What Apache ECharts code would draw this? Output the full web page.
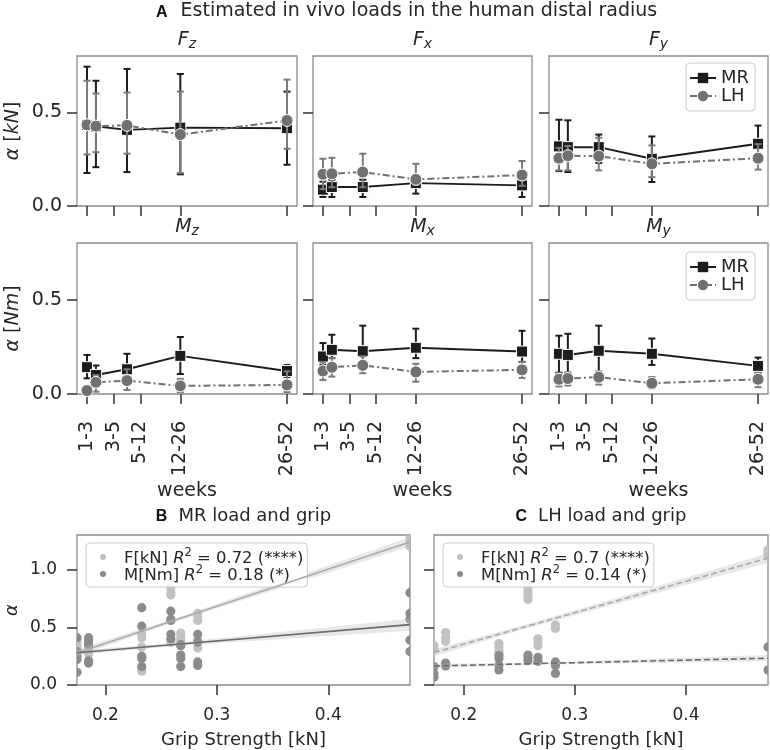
<!DOCTYPE html>
<html><head><meta charset="utf-8">
<script src="https://cdn.jsdelivr.net/npm/echarts@6/dist/echarts.min.js"></script>
<style>html,body{margin:0;padding:0;background:#fff}#c{width:770px;height:750px}</style>
</head><body><div id="c"></div>
<script>
// ---------- Panel A data ----------
const weeksX = [1, 1.67, 4, 8, 16];
const weekTicks = [1, 3, 5, 8, 16];
const weekLabels = ['1-3', '3-5', '5-12', '12-26', '26-52'];
const alphaTicksA = [0, 0.5];

const Fz_MR = [0.432, 0.425, 0.406, 0.418, 0.415];
const Fz_MR_lo = [0.176, 0.207, 0.181, 0.169, 0.22];
const Fz_MR_hi = [0.743, 0.668, 0.731, 0.704, 0.61];
const Fz_LH = [0.433, 0.426, 0.43, 0.381, 0.456];
const Fz_LH_lo = [0.275, 0.287, 0.279, 0.176, 0.305];
const Fz_LH_hi = [0.668, 0.60, 0.605, 0.61, 0.674];

const Fx_MR = [0.087, 0.101, 0.101, 0.122, 0.11];
const Fx_MR_lo = [0.048, 0.048, 0.048, 0.066, 0.048];
const Fx_MR_hi = [0.13, 0.14, 0.14, 0.16, 0.15];
const Fx_LH = [0.169, 0.172, 0.181, 0.142, 0.165];
const Fx_LH_lo = [0.09, 0.1, 0.1, 0.115, 0.108];
const Fx_LH_hi = [0.252, 0.257, 0.279, 0.225, 0.24];

const Fy_MR = [0.318, 0.314, 0.314, 0.252, 0.332];
const Fy_MR_lo = [0.186, 0.181, 0.23, 0.128, 0.26];
const Fy_MR_hi = [0.46, 0.457, 0.381, 0.371, 0.429];
const Fy_LH = [0.255, 0.268, 0.266, 0.225, 0.255];
const Fy_LH_lo = [0.19, 0.19, 0.19, 0.154, 0.194];
const Fy_LH_hi = [0.31, 0.32, 0.364, 0.323, 0.33];

const Mz_MR = [0.142, 0.101, 0.131, 0.202, 0.122];
const Mz_MR_lo = [0.083, 0.07, 0.09, 0.106, 0.09];
const Mz_MR_hi = [0.207, 0.151, 0.213, 0.302, 0.154];
const Mz_LH = [0.018, 0.062, 0.071, 0.043, 0.048];
const Mz_LH_lo = [0.0, 0.012, 0.021, 0.01, 0.01];
const Mz_LH_hi = [0.04, 0.1, 0.131, 0.08, 0.12];

const Mx_MR = [0.199, 0.234, 0.227, 0.245, 0.225];
const Mx_MR_lo = [0.155, 0.19, 0.17, 0.19, 0.17];
const Mx_MR_hi = [0.27, 0.314, 0.362, 0.346, 0.335];
const Mx_LH = [0.122, 0.142, 0.152, 0.117, 0.128];
const Mx_LH_lo = [0.074, 0.092, 0.11, 0.065, 0.085];
const Mx_LH_hi = [0.17, 0.19, 0.2, 0.16, 0.17];

const My_MR = [0.213, 0.207, 0.229, 0.213, 0.149];
const My_MR_lo = [0.113, 0.11, 0.09, 0.154, 0.11];
const My_MR_hi = [0.309, 0.319, 0.362, 0.294, 0.193];
const My_LH = [0.078, 0.082, 0.089, 0.057, 0.078];
const My_LH_lo = [0.04, 0.045, 0.05, 0.03, 0.036];
const My_LH_hi = [0.11, 0.115, 0.12, 0.09, 0.11];

// ---------- Panels B / C data ----------
const gripTicks = [0.2, 0.3, 0.4];
const alphaTicksB = [0, 0.5, 1.0];
const gripB = [0.1745, 0.1849, 0.2326, 0.2587, 0.2676, 0.2828, 0.4733];
const gripC = [0.1733, 0.1838, 0.2317, 0.2578, 0.2668, 0.2825, 0.4737];
const B_F = [[0.30,0.33,0.35,0.38],[0.27,0.30,0.33],[0.12,0.14,0.33,0.41,0.44],[0.37,0.39,0.78,0.80,0.84],[0.38,0.41,0.45],[0.32,0.39,0.56,0.59,0.62],[1.20,1.23,1.27]];
const B_M = [[0.11,0.22,0.25,0.29,0.41],[0.19,0.21,0.35,0.38,0.41],[0.16,0.23,0.25,0.51,0.67],[0.40,0.44,0.56,0.57,0.64],[0.16,0.23,0.26,0.34,0.35],[0.17,0.20,0.37,0.44],[0.29,0.39,0.57,0.62,0.80]];
const C_F = [[0.31,0.34],[0.38,0.41,0.455],[0.28,0.30,0.33,0.36],[0.74,0.76,0.79,0.82,0.85],[0.34,0.37,0.40],[0.49,0.52],[1.12,1.15,1.17]];
const C_M = [[0.07,0.10,0.16],[0.165,0.18,0.19],[0.13,0.17,0.23,0.255],[0.21,0.235,0.26],[0.205,0.24],[0.10,0.17,0.20],[0.13,0.33]];

const fitXB = [0.1745, 0.4733];
const fitB_F = [0.28, 1.24];
const fitB_M = [0.28, 0.523];
const fitXC = [0.1733, 0.4737];
const fitC_F = [0.281, 1.10];
const fitC_M = [0.165, 0.232];

const bandXB = [0.1745, 0.26, 0.4733];
const bandB_F_lo = [0.25, 0.54, 1.20];
const bandB_F_hi = [0.31, 0.57, 1.28];
const bandB_M_lo = [0.26, 0.335, 0.47];
const bandB_M_hi = [0.30, 0.365, 0.575];
const bandXC = [0.1733, 0.26, 0.4737];
const bandC_F_lo = [0.25, 0.50, 1.06];
const bandC_F_hi = [0.31, 0.535, 1.14];
const bandC_M_lo = [0.145, 0.175, 0.205];
const bandC_M_hi = [0.185, 0.193, 0.26];

// ---------- build ----------
const FONT = 'DejaVu Sans';
const TXT = '#262626';
const MRC = '#1c1c1c', LHC = '#707070', LHE = '#7a7a7a';
const FC = '#c2c2c2', MC = '#8b8b8b';
const FL = '#a9a9a9', ML = '#6b6b6b';

const panelsA = [
  {t:'{f|F}{s|z}', mr:Fz_MR, mrLo:Fz_MR_lo, mrHi:Fz_MR_hi, lh:Fz_LH, lhLo:Fz_LH_lo, lhHi:Fz_LH_hi},
  {t:'{f|F}{s|x}', mr:Fx_MR, mrLo:Fx_MR_lo, mrHi:Fx_MR_hi, lh:Fx_LH, lhLo:Fx_LH_lo, lhHi:Fx_LH_hi},
  {t:'{f|F}{s|y}', mr:Fy_MR, mrLo:Fy_MR_lo, mrHi:Fy_MR_hi, lh:Fy_LH, lhLo:Fy_LH_lo, lhHi:Fy_LH_hi},
  {t:'{f|M}{s|z}', mr:Mz_MR, mrLo:Mz_MR_lo, mrHi:Mz_MR_hi, lh:Mz_LH, lhLo:Mz_LH_lo, lhHi:Mz_LH_hi},
  {t:'{f|M}{s|x}', mr:Mx_MR, mrLo:Mx_MR_lo, mrHi:Mx_MR_hi, lh:Mx_LH, lhLo:Mx_LH_lo, lhHi:Mx_LH_hi},
  {t:'{f|M}{s|y}', mr:My_MR, mrLo:My_MR_lo, mrHi:My_MR_hi, lh:My_LH, lhLo:My_LH_lo, lhHi:My_LH_hi}
];
const colLeft = [77, 313, 549], colW = [220, 219, 219];
const rowTop = [56, 243], rowH = [150, 151];
const subTop = [31, 218];

const grids = [], xAxes = [], yAxes = [], series = [], titles = [], legends = [];
const subRich = {
  f: {fontSize: 19, fontStyle: 'italic', fontWeight: 'normal', lineHeight: 20, verticalAlign: 'top', color: TXT, fontFamily: FONT},
  s: {fontSize: 14, fontStyle: 'italic', fontWeight: 'normal', lineHeight: 20, verticalAlign: 'bottom', color: TXT, fontFamily: FONT}
};
const tickStyle = {color: '#333', width: 1.5};

function errRender(color) {
  return function (params, api) {
    const x = api.value(0), lo = api.value(1), hi = api.value(2);
    const p1 = api.coord([x, lo]), p2 = api.coord([x, hi]);
    const cw = 3.5, st = {stroke: color, lineWidth: 2};
    return {type: 'group', children: [
      {type: 'line', shape: {x1: p1[0], y1: p1[1], x2: p2[0], y2: p2[1]}, style: st},
      {type: 'line', shape: {x1: p1[0] - cw, y1: p1[1], x2: p1[0] + cw, y2: p1[1]}, style: st},
      {type: 'line', shape: {x1: p2[0] - cw, y1: p2[1], x2: p2[0] + cw, y2: p2[1]}, style: st}
    ]};
  };
}

panelsA.forEach((p, k) => {
  const row = Math.floor(k / 3), col = k % 3;
  grids.push({left: colLeft[col], top: rowTop[row], width: colW[col], height: rowH[row],
    show: true, borderColor: '#8c8c8c', borderWidth: 1.3, backgroundColor: '#fff'});
  xAxes.push({gridIndex: k, type: 'value', min: 0.25, max: 16.75,
    axisLine: {show: false}, splitLine: {show: false},
    axisTick: {show: true, customValues: weekTicks, length: 10, lineStyle: tickStyle},
    axisLabel: {show: row === 1, customValues: weekTicks, rotate: 90, margin: 27, fontSize: 19, color: TXT, fontFamily: FONT,
      formatter: v => weekLabels[weekTicks.indexOf(v)] || ''},
    name: row === 1 ? 'weeks' : '', nameLocation: 'middle', nameGap: 88,
    nameTextStyle: {fontSize: 19, color: TXT, fontFamily: FONT}});
  yAxes.push({gridIndex: k, type: 'value', min: 0, max: 0.8,
    axisLine: {show: false}, splitLine: {show: false},
    axisTick: {show: true, customValues: alphaTicksA, length: 10, lineStyle: tickStyle},
    axisLabel: {show: col === 0, customValues: alphaTicksA, margin: 15, fontSize: 19, color: TXT, fontFamily: FONT,
      formatter: v => v.toFixed(1)},
    name: col === 0 ? (row === 0 ? '{i|α} [{i|kN}]' : '{i|α} [{i|Nm}]') : '',
    nameLocation: 'middle', nameRotate: 90, nameGap: 54,
    nameTextStyle: {fontSize: 19, color: TXT, fontFamily: FONT,
      rich: {i: {fontStyle: 'italic', fontSize: 19, color: TXT, fontFamily: FONT}}}});
  titles.push({text: p.t, left: colLeft[col] + colW[col] / 2, top: subTop[row], textAlign: 'center', padding: 0,
    textStyle: {fontWeight: 'normal', rich: subRich}});
  series.push({type: 'custom', xAxisIndex: k, yAxisIndex: k, z: 2, silent: true,
    data: weeksX.map((x, i) => [x, p.mrLo[i], p.mrHi[i]]), renderItem: errRender(MRC), encode: {x: 0, y: [1, 2]}});
  series.push({type: 'line', name: 'MR', xAxisIndex: k, yAxisIndex: k, z: 3,
    data: weeksX.map((x, i) => [x, p.mr[i]]), symbol: 'rect', symbolSize: 11,
    itemStyle: {color: MRC, borderColor: '#fff', borderWidth: 1}, lineStyle: {color: MRC, width: 2}});
  series.push({type: 'custom', xAxisIndex: k, yAxisIndex: k, z: 4, silent: true,
    data: weeksX.map((x, i) => [x, p.lhLo[i], p.lhHi[i]]), renderItem: errRender(LHE), encode: {x: 0, y: [1, 2]}});
  series.push({type: 'line', name: 'LH', xAxisIndex: k, yAxisIndex: k, z: 5,
    data: weeksX.map((x, i) => [x, p.lh[i]]), symbol: 'circle', symbolSize: 12,
    itemStyle: {color: LHC, borderColor: '#fff', borderWidth: 1}, lineStyle: {color: LHC, width: 2, type: [7, 3, 2, 3]}});
});

// legends for A
[63, 252].forEach(top => {
  legends.push({data: ['MR', 'LH'], orient: 'vertical', left: 686, top: top, padding: [6, 6, 6, 3],
    itemWidth: 26, itemHeight: 13, itemGap: 0, borderColor: '#cccccc', borderWidth: 1, borderRadius: 4,
    backgroundColor: 'rgba(255,255,255,0.85)', selectedMode: false,
    itemStyle: {borderWidth: 0},
    textStyle: {fontSize: 18, lineHeight: 18, color: TXT, fontFamily: FONT}});
});

// Panels B / C
const bc = [
  {left: 77, width: 333, xmin: 0.1745, xmax: 0.4733, grip: gripB, F: B_F, M: B_M, fitX: fitXB, fF: fitB_F, fM: fitB_M,
   bx: bandXB, bFl: bandB_F_lo, bFh: bandB_F_hi, bMl: bandB_M_lo, bMh: bandB_M_hi, dash: 'solid',
   title: '{b|B}{n|MR load and grip}', names: ['B_F', 'B_M'], legLeft: 86},
  {left: 434, width: 334, xmin: 0.1733, xmax: 0.4737, grip: gripC, F: C_F, M: C_M, fitX: fitXC, fF: fitC_F, fM: fitC_M,
   bx: bandXC, bFl: bandC_F_lo, bFh: bandC_F_hi, bMl: bandC_M_lo, bMh: bandC_M_hi, dash: [6, 3],
   title: '{b|C}{n|LH load and grip}', names: ['C_F', 'C_M'], legLeft: 443}
];
const legendLabels = {
  B_F: '{p|F[kN] }{i|R}{s|2}{n| = 0.72 (****)}',
  B_M: '{p|M[Nm] }{i|R}{s|2}{n| = 0.18 (*)}',
  C_F: '{p|F[kN] }{i|R}{s|2}{n| = 0.7 (****)}',
  C_M: '{p|M[Nm] }{i|R}{s|2}{n| = 0.14 (*)}'
};
const legRich = {
  p: {fontSize: 16.4, lineHeight: 20, verticalAlign: 'bottom', color: TXT, fontFamily: FONT, padding: [0, 0, 0, 13]},
  n: {fontSize: 16.4, lineHeight: 20, verticalAlign: 'bottom', color: TXT, fontFamily: FONT},
  i: {fontSize: 16.4, lineHeight: 20, verticalAlign: 'bottom', fontStyle: 'italic', color: TXT, fontFamily: FONT},
  s: {fontSize: 11.5, lineHeight: 20, verticalAlign: 'top', color: TXT, fontFamily: FONT}
};
function bandSeries(gi, xs, lo, hi) {
  return {type: 'custom', xAxisIndex: gi, yAxisIndex: gi, z: 3, silent: true,
    data: xs.map((x, i) => [x, lo[i], hi[i]]), encode: {x: 0, y: [1, 2]},
    renderItem: (params, api) => {
      if (params.dataIndex !== 0) return null;
      const pts = [];
      for (let i = 0; i < xs.length; i++) pts.push(api.coord([xs[i], hi[i]]));
      for (let i = xs.length - 1; i >= 0; i--) pts.push(api.coord([xs[i], lo[i]]));
      return {type: 'polygon', shape: {points: pts}, style: {fill: 'rgba(190,190,190,0.35)'}};
    }};
}
function dotSeries(name, gi, grip, cols, color) {
  const data = [];
  cols.forEach((vals, i) => vals.forEach(v => data.push([grip[i], v])));
  return {type: 'custom', name: name, xAxisIndex: gi, yAxisIndex: gi, z: 2, clip: true, silent: true,
    data: data, encode: {x: 0, y: 1}, itemStyle: {color: color},
    renderItem: (params, api) => {
      const c = api.coord([api.value(0), api.value(1)]);
      return {type: 'circle', shape: {cx: c[0], cy: c[1], r: 4.6}, style: {fill: color}};
    }};
}
bc.forEach((p, j) => {
  const gi = 6 + j;
  grids.push({left: p.left, top: 535, width: p.width, height: 150, show: true,
    borderColor: '#8c8c8c', borderWidth: 1.3, backgroundColor: '#fff'});
  xAxes.push({gridIndex: gi, type: 'value', min: p.xmin, max: p.xmax,
    axisLine: {show: false}, splitLine: {show: false},
    axisTick: {show: true, customValues: gripTicks, length: 10, lineStyle: tickStyle},
    axisLabel: {customValues: gripTicks, margin: 22, fontSize: 17, color: TXT, fontFamily: FONT, formatter: v => v.toFixed(1)},
    name: 'Grip Strength [kN]', nameLocation: 'middle', nameGap: 46,
    nameTextStyle: {fontSize: 18, color: TXT, fontFamily: FONT}});
  yAxes.push({gridIndex: gi, type: 'value', min: 0, max: 1.3,
    axisLine: {show: false}, splitLine: {show: false},
    axisTick: {show: true, customValues: alphaTicksB, length: 10, lineStyle: tickStyle},
    axisLabel: {show: j === 0, customValues: alphaTicksB, margin: 20, fontSize: 17, color: TXT, fontFamily: FONT,
      formatter: v => v.toFixed(1)},
    name: j === 0 ? 'α' : '', nameLocation: 'middle', nameRotate: 90, nameGap: 56,
    nameTextStyle: {fontSize: 18, fontStyle: 'italic', color: TXT, fontFamily: FONT}});
  titles.push({text: p.title, left: p.left + p.width / 2, top: 507, textAlign: 'center', padding: 0,
    textStyle: {fontWeight: 'normal', rich: {
      b: {fontSize: 16, fontWeight: 'bold', color: '#111', fontFamily: 'Liberation Sans', padding: [0, 11, 0, 0], verticalAlign: 'bottom'},
      n: {fontSize: 18, fontWeight: 'normal', color: TXT, fontFamily: FONT, verticalAlign: 'bottom'}}}});
  series.push(dotSeries(p.names[0], gi, p.grip, p.F, FC));
  series.push(dotSeries(p.names[1], gi, p.grip, p.M, MC));
  series.push(bandSeries(gi, p.bx, p.bFl, p.bFh));
  series.push(bandSeries(gi, p.bx, p.bMl, p.bMh));
  series.push({type: 'line', xAxisIndex: gi, yAxisIndex: gi, z: 4, symbol: 'none', silent: true,
    data: p.fitX.map((x, i) => [x, p.fF[i]]), lineStyle: {color: FL, width: 1.6, type: p.dash}});
  series.push({type: 'line', xAxisIndex: gi, yAxisIndex: gi, z: 4, symbol: 'none', silent: true,
    data: p.fitX.map((x, i) => [x, p.fM[i]]), lineStyle: {color: ML, width: 1.6, type: p.dash}});
  legends.push({data: p.names, orient: 'vertical', left: p.legLeft, top: 543, padding: [4, 4, 3, 14],
    icon: 'circle', itemWidth: 6, itemHeight: 6, itemGap: -3, selectedMode: false,
    borderColor: '#cccccc', borderWidth: 1, borderRadius: 4, backgroundColor: 'rgba(255,255,255,0.85)',
    formatter: n => legendLabels[n], textStyle: {fontSize: 16.4, color: TXT, fontFamily: FONT, rich: legRich}});
});

titles.push({text: '{b|A}{n|Estimated in vivo loads in the human distal radius}', left: 156, top: 2, padding: 0,
  textStyle: {fontWeight: 'normal', rich: {
    b: {fontSize: 16, fontWeight: 'bold', color: '#111', fontFamily: 'Liberation Sans', padding: [0, 13, 0, 0], verticalAlign: 'bottom'},
    n: {fontSize: 19, fontWeight: 'normal', color: TXT, fontFamily: FONT, verticalAlign: 'bottom'}}}});

const chart = echarts.init(document.getElementById('c'), null, {renderer: 'canvas'});
chart.setOption({
  animation: false,
  backgroundColor: '#fff',
  textStyle: {fontFamily: FONT},
  title: titles, legend: legends, grid: grids, xAxis: xAxes, yAxis: yAxes, series: series
});
</script></body></html>
